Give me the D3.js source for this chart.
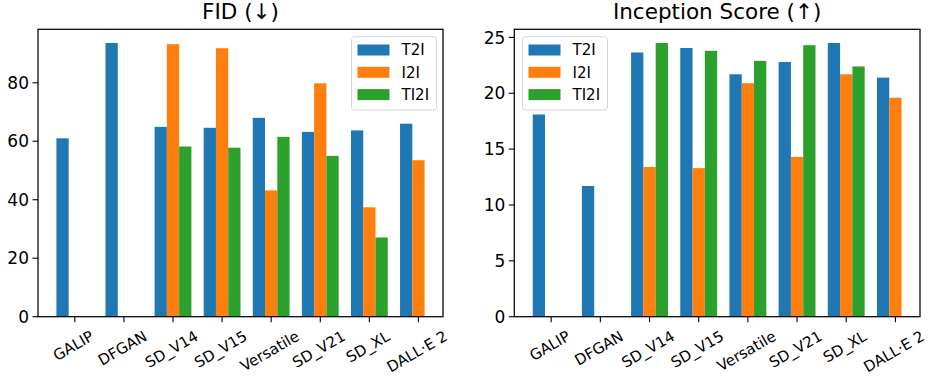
<!DOCTYPE html>
<html>
<head>
<meta charset="utf-8">
<script src="https://cdn.jsdelivr.net/npm/d3@7"></script>
<style>
  body { margin: 0; background: #fff; }
  text { font-family: "DejaVu Sans", sans-serif; fill: #000; }
</style>
</head>
<body>
<svg id="chart" width="929" height="378"></svg>
<script>
const models = ['GALIP', 'DFGAN', 'SD_V14', 'SD_V15', 'Versatile', 'SD_V21', 'SD_XL', 'DALL·E 2'];
const seriesNames = ['T2I', 'I2I', 'TI2I'];
const colors = ['#1f77b4', '#ff7f0e', '#2ca02c'];

// FID values (null = not reported)
const fidT2I  = [61.0, 93.6, 64.9, 64.6, 68.0, 63.2, 63.7, 66.0];
const fidI2I  = [null, null, 93.2, 91.8, 43.2, 79.8, 37.4, 53.5];
const fidTI2I = [null, null, 58.2, 57.8, 61.5, 55.0, 27.1, null];

// Inception Score values
const isT2I  = [18.1, 11.7, 23.65, 24.05, 21.7, 22.8, 24.5, 21.4];
const isI2I  = [null, null, 13.4, 13.3, 20.9, 14.3, 21.7, 19.6];
const isTI2I = [null, null, 24.5, 23.8, 22.9, 24.3, 22.4, null];

const fidTicks = [0, 20, 40, 60, 80];
const isTicks = [0, 5, 10, 15, 20, 25];

const svg = d3.select('#chart');
const plotTop = 29.3, plotBottom = 316.7;

function drawPanel(left, right, title, series, ticks, legendX) {
    const g = svg.append('g');
    const all = series.flat().filter(v => v != null);
    const x = d3.scaleLinear().domain([-0.75, 7.5]).range([left, right]);
    const y = d3.scaleLinear().domain([0, d3.max(all) * 1.05]).range([plotBottom, plotTop]);
    const bw = x(0.25) - x(0);

    series.forEach((vals, s) => {
        g.selectAll('rect.s' + s)
            .data(vals.map((v, i) => ({v: v, i: i})).filter(d => d.v != null))
            .enter()
            .append('rect')
            .attr('x', d => x(d.i + (s - 1) * 0.25 - 0.125))
            .attr('width', bw)
            .attr('y', d => y(d.v))
            .attr('height', d => y(0) - y(d.v))
            .attr('fill', colors[s]);
    });

    // frame
    g.append('rect')
        .attr('x', left).attr('y', plotTop)
        .attr('width', right - left).attr('height', plotBottom - plotTop)
        .attr('fill', 'none').attr('stroke', '#000').attr('stroke-width', 1.25);

    // y ticks
    ticks.forEach(t => {
        g.append('line')
            .attr('x1', left - 5.5).attr('x2', left)
            .attr('y1', y(t)).attr('y2', y(t))
            .attr('stroke', '#000').attr('stroke-width', 1.1);
        g.append('text')
            .attr('x', left - 9).attr('y', y(t))
            .attr('dy', '0.36em')
            .attr('text-anchor', 'end')
            .style('font-size', '17px')
            .text(t);
    });

    // x ticks
    models.forEach((m, i) => {
        g.append('line')
            .attr('x1', x(i)).attr('x2', x(i))
            .attr('y1', plotBottom).attr('y2', plotBottom + 5.5)
            .attr('stroke', '#000').attr('stroke-width', 1.1);
        const t = g.append('text')
            .attr('text-anchor', 'middle')
            .attr('dy', '0.35em')
            .style('font-size', '15px')
            .text(m);
        const w = t.node().getComputedTextLength();
        const h = 11;
        const hh = (w * 0.5 + h * 0.866) / 2;
        t.attr('transform', 'translate(' + (x(i) - 1.5) + ',' + (330 + hh) + ') rotate(-30)');
    });

    // title
    g.append('text')
        .attr('x', (left + right) / 2).attr('y', 18.5)
        .attr('text-anchor', 'middle')
        .style('font-size', '21.5px')
        .text(title);

    // legend
    const lg = g.append('g').attr('transform', 'translate(' + legendX + ',36.7)');
    lg.append('rect')
        .attr('width', 85).attr('height', 73.3)
        .attr('rx', 3)
        .attr('fill', '#fff').attr('fill-opacity', 0.8)
        .attr('stroke', '#d6d6d6').attr('stroke-width', 1);
    seriesNames.forEach((n, s) => {
        const cy = 13.3 + s * 22.3;
        lg.append('rect')
            .attr('x', 6).attr('y', cy - 5.5)
            .attr('width', 32).attr('height', 11)
            .attr('fill', colors[s]);
        lg.append('text')
            .attr('x', 50).attr('y', cy)
            .attr('dy', '0.36em')
            .style('font-size', '15px')
            .text(n);
    });
}

drawPanel(38, 443, 'FID (↓)', [fidT2I, fidI2I, fidTI2I], fidTicks, 351.5);
drawPanel(514.3, 920, 'Inception Score (↑)', [isT2I, isI2I, isTI2I], isTicks, 522.5);
</script>
</body>
</html>
